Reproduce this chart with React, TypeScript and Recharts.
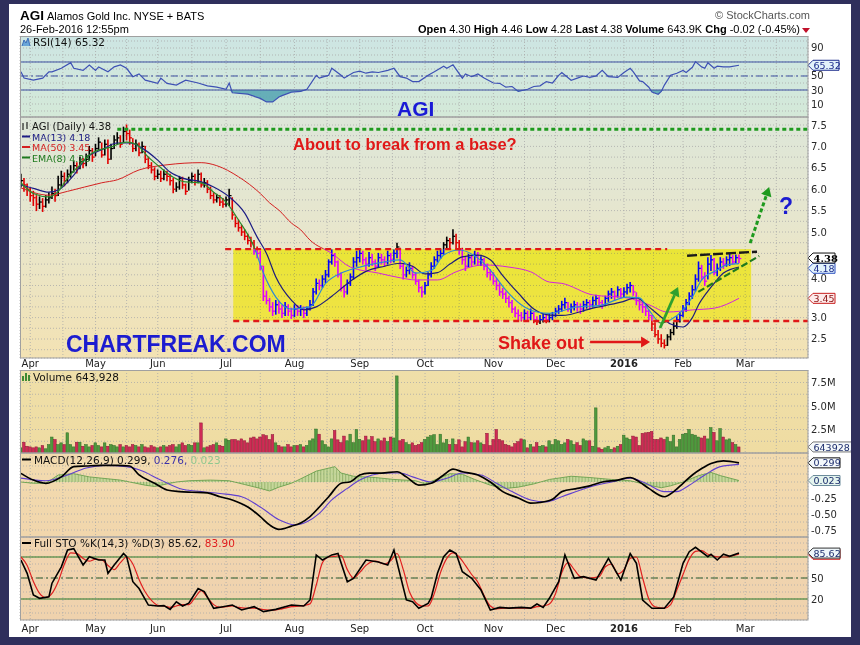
import React from "react";
import { ComposedChart, Line, Bar, Area, XAxis, YAxis, CartesianGrid, ReferenceLine, ReferenceArea } from "recharts";

// ---------- DATA (trading-day index 0 = 27-Mar-2015 ... 231 = 26-Feb-2016) ----------
const closes = [
  6.20, 6.10, 6.00, 5.85, 5.80, 5.65, 5.70, 5.60, 5.75, 5.80,
  5.90, 5.85, 6.10, 6.30, 6.20, 6.35, 6.40, 6.55, 6.50, 6.65,
  6.60, 6.70, 6.90, 6.75, 6.95, 7.10, 6.80, 7.05, 6.70, 6.95,
  7.15, 7.20, 7.05, 7.35, 7.30, 7.20, 6.95, 7.05, 6.85, 7.00,
  6.70, 6.55, 6.45, 6.30, 6.35, 6.25, 6.35, 6.30, 6.20, 6.00,
  6.05, 6.25, 6.10, 5.95, 6.20, 6.30, 6.20, 6.35, 6.10, 6.15,
  6.00, 5.85, 5.75, 5.80, 5.70, 5.65, 5.75, 5.85, 5.40, 5.20,
  5.10, 5.00, 4.90, 4.80, 4.75, 4.55, 4.50, 4.20, 3.50, 3.40,
  3.25, 3.15, 3.30, 3.20, 3.10, 3.25, 3.15, 3.05, 3.20, 3.15,
  3.20, 3.10, 3.20, 3.30, 3.60, 3.80, 3.75, 3.90, 4.00, 4.30,
  4.45, 4.30, 4.00, 3.70, 3.60, 3.80, 3.95, 4.30, 4.40, 4.50,
  4.35, 4.25, 4.40, 4.30, 4.20, 4.40, 4.35, 4.30, 4.45, 4.35,
  4.50, 4.65, 4.20, 4.00, 4.10, 4.15, 4.00, 3.85, 3.70, 3.60,
  3.75, 4.00, 4.20, 4.35, 4.45, 4.50, 4.70, 4.80, 4.75, 4.90,
  4.75, 4.60, 4.35, 4.20, 4.40, 4.30, 4.45, 4.30, 4.35, 4.20,
  4.05, 4.00, 3.85, 3.75, 3.60, 3.55, 3.45, 3.35, 3.20, 3.10,
  3.05, 3.00, 3.10, 3.00, 3.10, 2.95, 2.90, 2.95, 3.00, 2.95,
  3.00, 3.05, 3.15, 3.20, 3.30, 3.35, 3.20, 3.25, 3.30, 3.25,
  3.20, 3.30, 3.35, 3.30, 3.40, 3.45, 3.35, 3.30, 3.45, 3.55,
  3.60, 3.50, 3.65, 3.55, 3.60, 3.70, 3.75, 3.60, 3.40, 3.30,
  3.25, 3.15, 3.05, 2.85, 2.60, 2.50, 2.40, 2.35, 2.55, 2.65,
  2.80, 2.95, 3.05, 3.20, 3.35, 3.50, 3.65, 3.90, 4.15, 3.95,
  3.85, 4.25, 4.35, 4.05, 4.15, 4.30, 4.25, 4.35, 4.40, 4.30,
  4.40, 4.38,
];
const highs = [
  6.35, 6.25, 6.12, 6.02, 5.95, 5.85, 5.82, 5.78, 5.85, 5.92,
  6.05, 6.00, 6.30, 6.42, 6.38, 6.45, 6.55, 6.65, 6.62, 6.75,
  6.72, 6.82, 7.00, 6.95, 7.05, 7.20, 7.08, 7.15, 7.15, 7.05,
  7.25, 7.32, 7.25, 7.45, 7.50, 7.38, 7.18, 7.15, 7.08, 7.10,
  7.00, 6.75, 6.62, 6.50, 6.45, 6.42, 6.45, 6.42, 6.35, 6.25,
  6.15, 6.30, 6.28, 6.12, 6.28, 6.38, 6.35, 6.45, 6.38, 6.25,
  6.20, 6.05, 5.92, 5.88, 5.85, 5.78, 5.82, 6.00, 5.80, 5.35,
  5.28, 5.15, 5.05, 4.95, 4.88, 4.80, 4.65, 4.55, 4.20, 3.62,
  3.45, 3.35, 3.40, 3.38, 3.28, 3.35, 3.30, 3.22, 3.30, 3.28,
  3.28, 3.25, 3.25, 3.40, 3.68, 3.90, 3.88, 3.98, 4.10, 4.35,
  4.58, 4.50, 4.32, 4.05, 3.75, 3.88, 4.02, 4.40, 4.55, 4.58,
  4.55, 4.40, 4.52, 4.48, 4.35, 4.50, 4.48, 4.42, 4.55, 4.50,
  4.58, 4.74, 4.62, 4.25, 4.18, 4.28, 4.20, 4.05, 3.88, 3.72,
  3.82, 4.05, 4.28, 4.42, 4.55, 4.60, 4.75, 4.88, 4.85, 5.05,
  4.95, 4.80, 4.62, 4.42, 4.48, 4.45, 4.55, 4.52, 4.42, 4.38,
  4.25, 4.12, 4.05, 3.92, 3.80, 3.68, 3.60, 3.50, 3.40, 3.25,
  3.18, 3.12, 3.18, 3.15, 3.20, 3.12, 3.02, 3.05, 3.08, 3.05,
  3.08, 3.12, 3.22, 3.28, 3.38, 3.45, 3.35, 3.32, 3.38, 3.35,
  3.32, 3.38, 3.42, 3.40, 3.48, 3.52, 3.48, 3.40, 3.50, 3.62,
  3.68, 3.62, 3.72, 3.68, 3.70, 3.78, 3.82, 3.75, 3.58, 3.42,
  3.35, 3.28, 3.18, 3.05, 2.88, 2.70, 2.60, 2.48, 2.60, 2.72,
  2.88, 3.02, 3.12, 3.28, 3.42, 3.58, 3.75, 4.00, 4.30, 4.22,
  4.05, 4.40, 4.45, 4.38, 4.25, 4.40, 4.38, 4.42, 4.48, 4.45,
  4.46, 4.46,
];
const lows = [
  6.05, 5.95, 5.85, 5.72, 5.62, 5.50, 5.55, 5.48, 5.58, 5.68,
  5.78, 5.72, 5.85, 6.05, 6.08, 6.15, 6.28, 6.40, 6.38, 6.48,
  6.50, 6.55, 6.68, 6.65, 6.78, 6.92, 6.75, 6.80, 6.60, 6.70,
  6.95, 7.05, 6.98, 7.10, 7.15, 7.05, 6.88, 6.90, 6.78, 6.85,
  6.62, 6.48, 6.38, 6.22, 6.25, 6.18, 6.22, 6.20, 6.10, 5.92,
  5.95, 6.00, 6.02, 5.88, 5.98, 6.15, 6.10, 6.15, 6.05, 6.05,
  5.92, 5.78, 5.68, 5.70, 5.62, 5.58, 5.60, 5.62, 5.30, 5.12,
  5.02, 4.92, 4.82, 4.72, 4.65, 4.48, 4.40, 4.12, 3.40, 3.32,
  3.15, 3.05, 3.08, 3.10, 3.00, 3.05, 3.05, 2.98, 3.02, 3.05,
  3.05, 3.00, 3.05, 3.18, 3.28, 3.55, 3.65, 3.70, 3.82, 3.95,
  4.25, 4.20, 3.95, 3.62, 3.48, 3.55, 3.75, 3.90, 4.20, 4.30,
  4.25, 4.12, 4.20, 4.22, 4.10, 4.18, 4.25, 4.20, 4.25, 4.28,
  4.30, 4.40, 4.15, 3.90, 3.95, 4.02, 3.92, 3.78, 3.60, 3.48,
  3.55, 3.75, 3.95, 4.15, 4.30, 4.38, 4.48, 4.62, 4.60, 4.72,
  4.62, 4.48, 4.25, 4.10, 4.18, 4.20, 4.25, 4.22, 4.22, 4.12,
  3.95, 3.88, 3.78, 3.65, 3.52, 3.45, 3.35, 3.25, 3.12, 3.02,
  2.95, 2.92, 2.95, 2.92, 2.95, 2.88, 2.84, 2.86, 2.90, 2.88,
  2.90, 2.95, 3.02, 3.10, 3.15, 3.22, 3.15, 3.12, 3.18, 3.15,
  3.10, 3.15, 3.22, 3.20, 3.25, 3.30, 3.28, 3.22, 3.28, 3.38,
  3.45, 3.40, 3.48, 3.45, 3.48, 3.55, 3.60, 3.52, 3.30, 3.18,
  3.12, 3.05, 2.95, 2.70, 2.55, 2.40, 2.32, 2.29, 2.35, 2.48,
  2.60, 2.75, 2.90, 3.02, 3.15, 3.30, 3.45, 3.62, 3.85, 3.88,
  3.75, 3.90, 4.10, 4.00, 3.98, 4.10, 4.15, 4.20, 4.22, 4.25,
  4.28, 4.28,
];
// volume in millions of shares
const volumes = [
  0.55, 1.15, 0.72, 0.65, 0.55, 0.65, 0.55, 0.80, 0.45, 0.90,
  1.70, 1.44, 0.90, 1.08, 0.90, 2.15, 0.90, 0.65, 1.15, 1.15,
  0.72, 0.90, 0.65, 0.80, 1.08, 0.80, 0.65, 1.08, 0.72, 0.90,
  0.80, 0.65, 0.90, 0.65, 0.80, 0.65, 0.90, 0.80, 0.65, 0.90,
  0.65, 0.55, 0.80, 0.65, 0.55, 0.65, 0.80, 0.65, 0.80, 0.90,
  0.65, 0.90, 1.08, 0.80, 0.90, 0.80, 1.08, 1.08, 3.20, 0.55,
  0.65, 0.80, 0.90, 1.08, 0.80, 0.72, 1.50, 1.35, 1.44, 1.44,
  1.30, 1.50, 1.30, 1.08, 1.60, 1.70, 1.50, 1.70, 1.95, 1.85,
  1.44, 1.95, 1.08, 0.80, 0.65, 0.65, 0.90, 0.65, 0.80, 0.80,
  0.90, 0.65, 0.80, 1.30, 1.50, 2.55, 2.00, 1.30, 0.90, 0.65,
  1.50, 2.40, 1.40, 1.10, 1.80, 1.30, 2.00, 1.10, 2.50, 1.45,
  1.30, 1.80, 1.40, 1.75, 1.20, 1.50, 1.30, 1.60, 1.20, 1.70,
  1.60, 8.20, 1.30, 1.45, 1.10, 0.90, 1.08, 0.80, 0.90, 1.10,
  1.44, 1.70, 1.85, 1.95, 0.90, 2.00, 1.08, 1.44, 0.90, 1.50,
  0.90, 1.40, 0.65, 1.20, 1.70, 1.10, 1.08, 1.30, 1.08, 0.90,
  2.10, 0.80, 1.44, 2.50, 1.44, 1.30, 0.90, 0.80, 0.65, 1.00,
  1.20, 1.50, 1.40, 0.55, 0.90, 0.65, 1.10, 0.72, 0.80, 0.65,
  1.30, 0.90, 1.44, 1.30, 0.90, 1.08, 1.44, 1.30, 0.90, 1.10,
  0.80, 1.50, 1.30, 1.30, 0.72, 4.80, 0.55, 0.40, 0.55, 0.72,
  0.40, 0.55, 0.72, 0.90, 1.90, 1.60, 1.44, 1.80, 1.70, 0.80,
  2.10, 2.15, 2.20, 2.30, 1.44, 1.44, 1.60, 1.44, 1.70, 1.20,
  1.90, 0.65, 1.44, 2.00, 2.10, 2.50, 2.00, 1.90, 1.70, 1.60,
  1.80, 1.50, 2.70, 2.20, 1.30, 2.60, 1.70, 1.40, 1.50, 1.10,
  0.90, 0.644,
];

const ma50Pts = [[0,6.03],[9,5.86],[15,5.95],[26,6.15],[31,6.22],[38,6.45],[47,6.57],[58,6.62],[63,6.55],[70,6.29],[77,5.9],[80,5.68],[83,5.51],[87,5.21],[90,5.05],[93,4.81],[100,4.5],[106,4.18],[115,4.04],[122,3.93],[127,3.88],[134,3.88],[140,4.07],[149,4.23],[157,4.18],[164,4.07],[170,3.83],[174,3.8],[184,3.53],[195,3.46],[202,3.3],[208,3.13],[216,3.18],[223,3.22],[231,3.45]];
const ma13Pts = [[0,6.1],[4,6.02],[9,5.93],[12,5.98],[17,6.33],[21,6.73],[26,6.92],[31,7.08],[35,7.08],[39,6.96],[44,6.68],[48,6.4],[52,6.26],[58,6.17],[62,6.05],[67,5.82],[72,5.44],[76,4.88],[79,4.5],[82,3.95],[87,3.41],[91,3.18],[95,3.25],[100,3.5],[106,3.85],[111,4.08],[117,4.2],[122,4.27],[126,4.2],[130,4.02],[134,4.05],[138,4.25],[142,4.42],[147,4.46],[151,4.35],[155,3.98],[160,3.57],[165,3.2],[170,3.06],[174,3.05],[184,3.22],[193,3.36],[198,3.46],[202,3.25],[206,3.01],[209,2.85],[213,2.78],[216,3.0],[218,3.3],[221,3.62],[223,3.8],[226,4.04],[231,4.18]];
const ema8Pts = [[0,6.15],[4,5.9],[9,5.82],[12,5.95],[15,6.26],[19,6.57],[23,6.85],[29,6.99],[34,7.1],[37,7.05],[41,6.75],[45,6.5],[49,6.28],[53,6.17],[58,6.15],[62,5.93],[66,5.7],[70,5.28],[75,4.65],[78,4.04],[82,3.48],[87,3.2],[93,3.25],[98,3.8],[104,4.07],[109,4.18],[117,4.3],[122,4.35],[127,4.04],[132,4.1],[136,4.46],[141,4.58],[147,4.39],[151,4.11],[156,3.64],[162,3.25],[166,3.13],[170,3.1],[179,3.25],[186,3.28],[195,3.48],[199,3.46],[202,3.18],[206,2.87],[209,2.95],[213,3.18],[216,3.48],[219,3.88],[224,4.11],[227,4.23],[231,4.26]];
const rsiPts = [[0,56],[1,47],[4,44],[7,47],[9,56],[10,56],[13,61],[16,69],[17,61],[20,58],[22,65.7],[24,58],[25,63],[28,56],[30,63],[32,65.7],[34,61],[36,49],[38,53],[40,44],[44,39.5],[45,47],[47,39.5],[50,37],[53,44],[57,40],[60,36],[63,34],[66,31],[67,40],[68,26],[73,24],[77,18],[79,13],[81,13],[83,20],[84,22],[87,27],[90,28],[92,31],[95,51],[96,47],[99,51],[100,61],[103,51],[104,47],[107,55],[109,57],[111,54],[113,56],[115,55],[118,58],[120,61],[122,49],[124,47],[126,42],[128,42],[131,51],[133,56],[136,64],[137,61],[139,66],[142,47],[143,53],[145,49],[147,53],[149,47],[152,40],[154,39.5],[156,34],[158,35],[160,28],[163,31],[165,35],[167,36],[169,42],[171,40],[173,51],[174,55],[177,44],[179,47],[181,50],[183,48],[185,50],[187,58],[189,49],[192,48],[194,55],[196,61],[197,56],[199,43],[200,42],[202,34],[203,27],[205,24],[206,28],[207,37],[209,51],[211,54],[213,58],[214,55],[216,62.5],[217,70.5],[219,63],[220,61],[221,69],[223,61],[224,64],[226,63],[228,63],[231,65.32]];
const macdPts = [[0,0.135],[4,0.03],[8,-0.02],[13,0.08],[17,0.24],[21,0.25],[26,0.26],[31,0.26],[35,0.25],[38,0.11],[43,-0.02],[47,-0.125],[51,-0.15],[55,-0.16],[60,-0.17],[64,-0.23],[68,-0.28],[73,-0.39],[77,-0.54],[80,-0.67],[83,-0.74],[87,-0.69],[90,-0.64],[93,-0.54],[96,-0.39],[99,-0.23],[103,-0.02],[106,0.005],[109,0.11],[112,0.14],[116,0.14],[121,0.16],[124,0.08],[128,-0.05],[132,-0.02],[136,0.11],[139,0.2],[142,0.16],[147,0.11],[151,0.0],[155,-0.15],[160,-0.25],[164,-0.33],[167,-0.32],[171,-0.27],[174,-0.15],[179,-0.1],[183,-0.06],[187,0.0],[192,0.03],[196,0.07],[199,0.0],[202,-0.1],[207,-0.23],[210,-0.15],[213,-0.02],[216,0.11],[219,0.21],[222,0.29],[226,0.33],[231,0.299]];
const signalPts = [[0,0.06],[8,0.02],[15,0.11],[21,0.22],[27,0.26],[34,0.24],[38,0.19],[45,0.03],[51,-0.1],[58,-0.15],[64,-0.18],[71,-0.23],[77,-0.39],[83,-0.59],[88,-0.67],[92,-0.62],[96,-0.49],[100,-0.28],[105,-0.1],[109,0.03],[113,0.11],[118,0.14],[122,0.14],[126,0.08],[132,0.0],[137,0.06],[142,0.14],[148,0.11],[153,-0.02],[158,-0.15],[164,-0.28],[169,-0.31],[174,-0.23],[180,-0.125],[185,-0.05],[190,0.0],[196,0.06],[201,-0.02],[207,-0.15],[211,-0.15],[215,-0.05],[220,0.11],[225,0.24],[231,0.276]];
const histPts = [[0,0.0],[4,-0.02],[8,-0.02],[12,0.11],[17,0.13],[22,0.08],[28,0.05],[32,0.03],[35,0.0],[40,-0.05],[43,-0.07],[45,-0.05],[50,0.0],[54,0.02],[61,0.03],[67,0.02],[72,-0.04],[77,-0.1],[80,-0.14],[83,-0.08],[87,-0.02],[90,0.05],[95,0.17],[101,0.24],[103,0.14],[107,0.09],[114,0.07],[120,0.04],[127,0.02],[130,-0.03],[133,0.03],[138,0.13],[142,0.12],[146,0.04],[151,-0.05],[156,-0.1],[160,-0.08],[165,-0.03],[170,0.04],[177,0.09],[183,0.07],[190,0.04],[196,0.02],[201,-0.04],[206,-0.09],[209,-0.06],[213,0.0],[218,0.1],[222,0.15],[225,0.1],[231,0.023]];
const stoKPts = [[0,75.7],[2,56.7],[4,25.7],[6,21],[9,23],[10,42.6],[13,66],[15,90],[17,92],[20,68.6],[22,80.5],[25,75.7],[27,75.7],[28,56.7],[30,68.6],[33,85],[34,80.5],[36,44.7],[38,35],[41,11.4],[44,10],[46,10.5],[48,5.2],[50,16],[52,10],[54,14],[57,35],[59,30.5],[62,6.7],[65,9],[68,11.4],[71,4.3],[75,9],[78,2],[82,5.2],[87,11.4],[91,10],[93,18.6],[95,83],[97,75.7],[100,83],[102,85],[105,44.7],[107,49.5],[111,75.7],[115,73],[118,68.6],[120,90],[124,18.6],[126,16],[128,6.7],[131,13.8],[132,22],[134,56.7],[136,80.5],[138,90],[140,85],[142,59],[145,49.5],[148,32.8],[151,4.3],[154,8],[157,7],[161,8],[164,7],[166,12.9],[168,8],[170,21],[173,44.7],[175,83],[178,49.5],[181,51.9],[185,47],[189,78],[193,47],[196,85],[198,71],[200,18.6],[203,6.7],[207,6.7],[210,23],[213,71],[215,87.6],[217,93.8],[221,80.5],[222,84],[224,75.7],[226,84],[228,81],[231,85.62]];
const stoDPts = [[0,80],[2,68],[4,45],[6,28],[8,22],[10,28],[12,45],[14,70],[16,86],[18,85],[20,78],[22,74],[24,77],[26,76],[28,68],[30,62],[32,72],[34,80],[36,70],[38,48],[40,30],[42,18],[44,11],[46,10],[48,8],[50,10],[52,12],[54,12],[56,22],[58,32],[60,22],[62,12],[64,8],[66,9],[68,10],[70,8],[72,7],[75,7],[78,5],[81,4],[84,6],[87,9],[90,10],[93,13],[95,40],[97,72],[99,80],[101,81],[103,82],[105,62],[107,50],[109,58],[111,68],[114,74],[117,70],[119,75],[121,85],[123,62],[125,30],[127,15],[129,10],[131,10],[133,28],[135,58],[137,78],[139,86],[141,80],[143,68],[145,55],[147,44],[149,25],[151,10],[153,6],[156,7],[160,7],[164,7],[166,9],[168,10],[170,13],[172,28],[174,58],[176,72],[178,62],[180,52],[183,50],[186,52],[188,66],[190,70],[192,56],[194,62],[196,78],[198,80],[200,50],[202,20],[204,9],[207,7],[209,12],[211,33],[213,55],[215,77],[217,88],[219,89],[221,84],[223,81],[225,80],[227,80],[229,82],[231,83.9]];

const monthTicks = [3, 24, 44, 66, 88, 109, 130, 152, 172, 194, 213, 233];
const monthLabels = ["Apr", "May", "Jun", "Jul", "Aug", "Sep", "Oct", "Nov", "Dec", "2016", "Feb", "Mar"];
const halfMonthTicks = [13.5, 34, 55, 77, 98.5, 119.5, 141, 162, 183, 203.5, 223, 243];

const priceGridTicks = [2.25, 2.5, 2.75, 3, 3.25, 3.5, 3.75, 4, 4.25, 4.5, 4.75, 5, 5.25, 5.5, 5.75, 6, 6.25, 6.5, 6.75, 7, 7.25, 7.5];
const priceTickLabels: Record<string, string> = { "2.5": "2.5", "3": "3.0", "4": "4.0", "5": "5.0", "5.5": "5.5", "6": "6.0", "6.5": "6.5", "7": "7.0", "7.5": "7.5" };
const rsiGridTicks = [0, 10, 20, 30, 40, 50, 60, 70, 80, 90, 100];
const rsiTickLabels: Record<string, string> = { "90": "90", "50": "50", "30": "30", "10": "10" };
const volGridTicks = [1.25, 2.5, 3.75, 5, 6.25, 7.5];
const volTickLabels: Record<string, string> = { "7.5": "7.5M", "5": "5.0M", "2.5": "2.5M" };
const macdGridTicks = [-0.75, -0.625, -0.5, -0.375, -0.25, -0.125, 0, 0.125, 0.25, 0.375];
const macdTickLabels: Record<string, string> = { "-0.25": "-0.25", "-0.5": "-0.50", "-0.75": "-0.75" };
const stoGridTicks = [0, 10, 20, 30, 40, 50, 60, 70, 80, 90, 100];
const stoTickLabels: Record<string, string> = { "50": "50", "20": "20" };

// ---------- derived tables ----------
const priceData = closes.map((c, i) => ({ i, c, hi: highs[i], lo: lows[i], vol: volumes[i], up: i === 0 ? true : c >= closes[i - 1] }));
const toRows = (pts: number[][]) => pts.map(([i, v]) => ({ i, v }));
const ma50Data = toRows(ma50Pts);
const ma13Data = toRows(ma13Pts);
const ema8Data = toRows(ema8Pts);
const rsiData = toRows(rsiPts);
const macdData = toRows(macdPts);
const signalData = toRows(signalPts);
const histData = toRows(histPts);
const stoKData = toRows(stoKPts);
const stoDData = toRows(stoDPts);
const gridX = [...monthTicks, ...halfMonthTicks].sort((a, b) => a - b);

const X_DOMAIN: [number, number] = [-0.3, 253.2];
const MARGIN = { top: 0, right: 0, bottom: 0, left: 20 };
const FONT = "'DejaVu Sans', Verdana, sans-serif";
const HFONT = "'Liberation Sans', Arial, sans-serif";
const GRID = { stroke: "#a9a9a9", strokeDasharray: "1 2", strokeWidth: 0.8 };
const NAVY = "#2f2f5c";

const makeYTick = (labels: Record<string, string>, shift: Record<string, number> = {}) => (p: any) => {
  const key = String(p.payload.value);
  const lab = labels[key];
  if (!lab) return <g />;
  return (
    <text x={p.x} y={p.y + 3.5 + (shift[key] || 0)} fontFamily={FONT} fontSize={10} fill="#2a2a2a" textAnchor="start">{lab}</text>
  );
};
const makeMonthTick = (dy: number) => (p: any) => {
  const k = monthTicks.indexOf(p.payload.value);
  if (k < 0) return <g />;
  const lab = monthLabels[k];
  return (
    <text x={p.x} y={p.y + dy} textAnchor="middle" fontFamily={FONT} fontSize={10} fontWeight={lab === "2016" ? "bold" : "normal"} fill="#222">{lab}</text>
  );
};

const PriceBar = (p: any) => {
  const { x, y, width, height, payload } = p;
  if (x == null || y == null || !payload) return <g />;
  const top = Math.min(y, y + height);
  const h = Math.abs(height);
  const cx = x + width / 2;
  const span = payload.hi - payload.lo || 1;
  const yc = top + ((payload.hi - payload.c) / span) * h;
  const col = payload.up ? "#000000" : "#e00000";
  return (
    <g>
      <line x1={cx} x2={cx} y1={top - 0.5} y2={top + h + 0.5} stroke={col} strokeWidth={1.6} />
      <line x1={cx} x2={cx + 2.4} y1={yc} y2={yc} stroke={col} strokeWidth={1.3} />
    </g>
  );
};
const VolBar = (p: any) => {
  const { x, y, width, height, payload } = p;
  if (x == null || !payload) return <g />;
  const up = payload.up;
  return <rect x={x} y={Math.min(y, y + height)} width={width} height={Math.abs(height)} fill={up ? "#4f9a3e" : "#cf2b55"} stroke={up ? "#2f6b25" : "#8d1736"} strokeWidth={0.5} />;
};

function arrowShape(color: string, width: number, dash: string | undefined, head: number) {
  return (p: any) => {
    const { x1, y1, x2, y2 } = p;
    const a = Math.atan2(y2 - y1, x2 - x1);
    const bx = x2 - head * Math.cos(a);
    const by = y2 - head * Math.sin(a);
    const hw = head * 0.6;
    const pts = `${x2},${y2} ${bx + hw * Math.sin(a)},${by - hw * Math.cos(a)} ${bx - hw * Math.sin(a)},${by + hw * Math.cos(a)}`;
    return (
      <g>
        <line x1={x1} y1={y1} x2={bx} y2={by} stroke={color} strokeWidth={width} strokeDasharray={dash} />
        <polygon points={pts} fill={color} />
      </g>
    );
  };
}

function tagShape(text: string, stroke: string, fill: string, color: string, w: number, bold = false, dy = 0) {
  return (p: any) => {
    const x = Math.max(p.x1, p.x2);
    const y = p.y1 + dy;
    const h = 10;
    return (
      <g>
        <polygon points={`${x},${y} ${x + 5},${y - h / 2} ${x + w},${y - h / 2} ${x + w},${y + h / 2} ${x + 5},${y + h / 2}`} fill={fill} stroke={stroke} strokeWidth={1} />
        <text x={x + 5.5} y={y + 3.6} fontFamily={bold ? "'DejaVu Serif', serif" : FONT} fontSize={bold ? 10 : 9.5} fontWeight={bold ? "bold" : "normal"} fill={color}>{text}</text>
      </g>
    );
  };
}

const blendShape = (p: any) => (
  <rect x={p.x} y={p.y} width={p.width} height={p.height} fill="#0000ff" style={{ mixBlendMode: "difference" }} />
);

function RsiChart() {
  return (
    <ComposedChart width={860} height={81} margin={MARGIN} data={rsiData}>
      <defs>
        <linearGradient id="gRsi" x1="0" y1="0" x2="0" y2="1">
          <stop offset="0%" stopColor="#cde5e3" />
          <stop offset="100%" stopColor="#d4e9d8" />
        </linearGradient>
      </defs>
      <CartesianGrid {...GRID} fill="url(#gRsi)" />
      <XAxis type="number" dataKey="i" domain={X_DOMAIN} allowDataOverflow ticks={gridX} interval={0} hide />
      <YAxis orientation="right" width={52} domain={[-8.57, 107.14]} allowDataOverflow ticks={rsiGridTicks} interval={0} tick={makeYTick(rsiTickLabels)} axisLine={false} tickLine={false} tickSize={0} tickMargin={3} />
      <ReferenceLine y={70} stroke="#3c4ea0" strokeWidth={1} />
      <ReferenceLine y={30} stroke="#3c4ea0" strokeWidth={1} />
      <ReferenceLine y={50} stroke="#3c4ea0" strokeWidth={1} strokeDasharray="7 3 2 3" />
      <Area type="linear" dataKey={(d: any) => [Math.min(d.v, 30), 30]} fill="#5aa7b4" fillOpacity={0.9} stroke="none" isAnimationActive={false} />
      <Line type="linear" dataKey="v" stroke="#3d50b4" strokeWidth={1.2} dot={false} isAnimationActive={false} />
      <ReferenceLine y={65.32} stroke="none" ifOverflow="visible" shape={tagShape("65.32", "#1c2c8c", "#e2f2fb", "#1c2c8c", 31)} />
    </ComposedChart>
  );
}

function PriceChart() {
  return (
    <ComposedChart width={860} height={253} margin={MARGIN} data={priceData}>
      <defs>
        <linearGradient id="gPrice" x1="0" y1="0" x2="0" y2="1">
          <stop offset="0%" stopColor="#dde6d9" />
          <stop offset="45%" stopColor="#e7e6cd" />
          <stop offset="100%" stopColor="#f3e2b3" />
        </linearGradient>
      </defs>
      <CartesianGrid {...GRID} fill="url(#gPrice)" />
      <XAxis type="number" dataKey="i" domain={X_DOMAIN} allowDataOverflow ticks={gridX} interval={0} height={12} axisLine={false} tickLine={false} tickSize={0} tickMargin={0} tick={makeMonthTick(9)} />
      <YAxis orientation="right" width={52} domain={[2.056, 7.687]} allowDataOverflow ticks={priceGridTicks} interval={0} tick={makeYTick(priceTickLabels, { "4": 3.5 })} axisLine={false} tickLine={false} tickSize={0} tickMargin={3} />
      <Line data={ma50Data} type="monotone" dataKey="v" stroke="#d42020" strokeWidth={1} dot={false} isAnimationActive={false} />
      <Line data={ma13Data} type="monotone" dataKey="v" stroke="#1c1c84" strokeWidth={1.2} dot={false} isAnimationActive={false} />
      <Line data={ema8Data} type="monotone" dataKey="v" stroke="#2b8a2b" strokeWidth={1.2} dot={false} isAnimationActive={false} />
      <Bar dataKey={(d: any) => [d.lo, d.hi]} barSize={3} shape={PriceBar} isAnimationActive={false} />
      <ReferenceArea x1={68.3} x2={234.9} y1={2.93} y2={4.6} ifOverflow="visible" shape={blendShape} zIndex={900} />
      <ReferenceLine segment={[{ x: 65.7, y: 4.6 }, { x: 207.9, y: 4.6 }]} stroke="#e01818" strokeWidth={2.4} strokeDasharray="6 4" zIndex={1000} />
      <ReferenceLine segment={[{ x: 68.3, y: 2.92 }, { x: 253.2, y: 2.92 }]} stroke="#e01818" strokeWidth={2.4} strokeDasharray="6 4" zIndex={1000} />
      <ReferenceLine segment={[{ x: 31, y: 7.4 }, { x: 253.2, y: 7.4 }]} stroke="#1e9a1e" strokeWidth={3} strokeDasharray="4 3" zIndex={1000} />
      <ReferenceLine segment={[{ x: 214.3, y: 4.446 }, { x: 236.8, y: 4.54 }]} stroke="#1a1a1a" strokeWidth={2.4} strokeDasharray="10 3" zIndex={1000} />
      <ReferenceLine segment={[{ x: 217.9, y: 3.6 }, { x: 237.5, y: 4.44 }]} stroke="#1f7a1f" strokeWidth={2.2} strokeDasharray="7 3" zIndex={1000} />
      <ReferenceLine segment={[{ x: 234.6, y: 4.74 }, { x: 240.7, y: 6.05 }]} ifOverflow="visible" zIndex={1000} shape={arrowShape("#1e9a1e", 3, "4 2.5", 9)} />
      <ReferenceLine segment={[{ x: 205.6, y: 2.757 }, { x: 211.4, y: 3.715 }]} ifOverflow="visible" zIndex={1000} shape={arrowShape("#2ea02e", 2.8, undefined, 9)} />
      <ReferenceLine segment={[{ x: 183.1, y: 2.43 }, { x: 202.4, y: 2.43 }]} ifOverflow="visible" zIndex={1000} shape={arrowShape("#e01818", 2.5, undefined, 9)} />
      <ReferenceLine y={3.45} stroke="none" ifOverflow="visible" zIndex={1100} shape={tagShape("3.45", "#c81e1e", "#fdeaea", "#8a1010", 27)} />
      <ReferenceLine y={4.18} stroke="none" ifOverflow="visible" zIndex={1100} shape={tagShape("4.18", "#2b4fc0", "#e2f2fb", "#1c2c8c", 27, false, 1.2)} />
      <ReferenceLine y={4.38} stroke="none" ifOverflow="visible" zIndex={1100} shape={tagShape("4.38", "#111", "#ffffff", "#000", 27, true, -0.5)} />
    </ComposedChart>
  );
}

function VolumeChart() {
  return (
    <ComposedChart width={860} height={83} margin={MARGIN} data={priceData}>
      <defs>
        <linearGradient id="gVol" x1="0" y1="0" x2="0" y2="1">
          <stop offset="0%" stopColor="#efdfa9" />
          <stop offset="100%" stopColor="#efdca2" />
        </linearGradient>
      </defs>
      <CartesianGrid {...GRID} fill="url(#gVol)" />
      <XAxis type="number" dataKey="i" domain={X_DOMAIN} allowDataOverflow ticks={gridX} interval={0} hide />
      <YAxis orientation="right" width={52} domain={[0, 8.83]} allowDataOverflow ticks={volGridTicks} interval={0} tick={makeYTick(volTickLabels)} axisLine={false} tickLine={false} tickSize={0} tickMargin={3} />
      <Bar dataKey="vol" barSize={2.6} shape={VolBar} isAnimationActive={false} />
      <ReferenceLine y={0.644} stroke="none" ifOverflow="visible" shape={tagShape("643928.0", "#777", "#f4f8fa", "#1c2c6c", 50)} />
    </ComposedChart>
  );
}

function MacdChart() {
  return (
    <ComposedChart width={860} height={84} margin={MARGIN} data={macdData}>
      <defs>
        <linearGradient id="gMacd" x1="0" y1="0" x2="0" y2="1">
          <stop offset="0%" stopColor="#f2dbaf" />
          <stop offset="100%" stopColor="#f1d6ac" />
        </linearGradient>
        <pattern id="histStripe" width="3.11" height="6" patternUnits="userSpaceOnUse">
          <rect width="3.11" height="6" fill="#a9d68d" />
          <rect width="1" height="6" fill="#5e9a45" />
        </pattern>
      </defs>
      <CartesianGrid {...GRID} fill="url(#gMacd)" />
      <XAxis type="number" dataKey="i" domain={X_DOMAIN} allowDataOverflow ticks={gridX} interval={0} hide />
      <YAxis orientation="right" width={52} domain={[-0.859, 0.453]} allowDataOverflow ticks={macdGridTicks} interval={0} tick={makeYTick(macdTickLabels)} axisLine={false} tickLine={false} tickSize={0} tickMargin={3} />
      <Area data={histData} type="linear" dataKey="v" baseValue={0} fill="url(#histStripe)" stroke="#5e9a45" strokeWidth={0.8} isAnimationActive={false} />
      <Line data={signalData} type="monotone" dataKey="v" stroke="#6040d0" strokeWidth={1.1} dot={false} isAnimationActive={false} />
      <Line data={macdData} type="monotone" dataKey="v" stroke="#000" strokeWidth={1.7} dot={false} isAnimationActive={false} />
      <ReferenceLine y={0.023} stroke="none" ifOverflow="visible" shape={tagShape("0.023", "#6a8a9a", "#e4f4ee", "#1c2c6c", 32)} />
      <ReferenceLine y={0.299} stroke="none" ifOverflow="visible" shape={tagShape("0.299", "#111", "#f4f8fb", "#1c2c6c", 32)} />
    </ComposedChart>
  );
}

function StoChart() {
  return (
    <ComposedChart width={860} height={100} margin={MARGIN} data={stoKData}>
      <defs>
        <linearGradient id="gSto" x1="0" y1="0" x2="0" y2="1">
          <stop offset="0%" stopColor="#f1d5b0" />
          <stop offset="100%" stopColor="#efd2ad" />
        </linearGradient>
      </defs>
      <CartesianGrid {...GRID} fill="url(#gSto)" />
      <XAxis type="number" dataKey="i" domain={X_DOMAIN} allowDataOverflow ticks={gridX} interval={0} height={17} axisLine={false} tickLine={false} tickSize={0} tickMargin={0} tick={makeMonthTick(12)} />
      <YAxis orientation="right" width={52} domain={[-10, 108.6]} allowDataOverflow ticks={stoGridTicks} interval={0} tick={makeYTick(stoTickLabels)} axisLine={false} tickLine={false} tickSize={0} tickMargin={3} />
      <ReferenceLine y={80} stroke="#2a7a2a" strokeWidth={1.1} />
      <ReferenceLine y={20} stroke="#2a7a2a" strokeWidth={1.1} />
      <ReferenceLine y={50} stroke="#2a5a2a" strokeWidth={1} strokeDasharray="7 3 2 3" />
      <Line data={stoDData} type="monotone" dataKey="v" stroke="#e02020" strokeWidth={1.2} dot={false} isAnimationActive={false} />
      <Line data={stoKData} type="linear" dataKey="v" stroke="#000" strokeWidth={1.6} dot={false} isAnimationActive={false} />
      <ReferenceLine y={83.9} stroke="none" ifOverflow="visible" shape={tagShape("", "#d02020", "#fbe8e8", "#000", 32)} />
      <ReferenceLine y={85.62} stroke="none" ifOverflow="visible" shape={tagShape("85.62", "#333", "#eef6fa", "#1c2c6c", 32)} />
    </ComposedChart>
  );
}

function Overlay() {
  const panel = { fill: "none", stroke: "#a0a0a0", strokeWidth: 1 };
  return (
    <svg width={860} height={645} style={{ position: "absolute", left: 0, top: 0, pointerEvents: "none" }}>
      <rect x={20.5} y={36.5} width={787.5} height={80.5} {...panel} />
      <rect x={20.5} y={117} width={787.5} height={241} {...panel} />
      <rect x={20.5} y={370.5} width={787.5} height={82.5} {...panel} />
      <rect x={20.5} y={453} width={787.5} height={84} {...panel} />
      <rect x={20.5} y={537} width={787.5} height={83} {...panel} />
      <rect x={851} y={0} width={9} height={645} fill={NAVY} />
      <rect x={0} y={0} width={9} height={645} fill={NAVY} />
      <rect x={0} y={637} width={860} height={8} fill={NAVY} />
      <rect x={0} y={0} width={860} height={4} fill={NAVY} />

      {/* header */}
      <text x={20} y={20} fontFamily={HFONT} fontSize={13.5} fontWeight="bold" fill="#000">AGI</text>
      <text x={47} y={20} fontFamily={HFONT} fontSize={11} fill="#000">Alamos Gold Inc.  NYSE + BATS</text>
      <text x={20} y={33} fontFamily={HFONT} fontSize={11} fill="#000">26-Feb-2016 12:55pm</text>
      <text x={810} y={19} textAnchor="end" fontFamily={HFONT} fontSize={11} fill="#555">© StockCharts.com</text>
      <text x={800} y={33} textAnchor="end" fontFamily={HFONT} fontSize={11} fill="#000">
        <tspan fontWeight="bold">Open</tspan> 4.30  <tspan fontWeight="bold">High</tspan> 4.46  <tspan fontWeight="bold">Low</tspan> 4.28  <tspan fontWeight="bold">Last</tspan> 4.38  <tspan fontWeight="bold">Volume</tspan> 643.9K  <tspan fontWeight="bold">Chg</tspan> -0.02 (-0.45%)
      </text>
      <polygon points="802,28 810,28 806,33" fill="#c0102a" />

      {/* RSI legend */}
      <polyline points="22,46 24,40 26,43 28,38 30,46" fill="#6aa6d8" stroke="#2a5ab0" strokeWidth={0.8} />
      <text x={33} y={46} fontFamily={FONT} fontSize={10.5} fill="#111">RSI(14) 65.32</text>
      <text x={397} y={116} fontFamily={HFONT} fontSize={21} fontWeight="bold" fill="#1a1ad6">AGI</text>

      {/* price legend */}
      <line x1={23} y1={123} x2={23} y2={130} stroke="#000" strokeWidth={1} />
      <line x1={27} y1={122} x2={27} y2={129} stroke="#000" strokeWidth={1} />
      <text x={32} y={130} fontFamily={FONT} fontSize={10} fill="#111">AGI (Daily) 4.38</text>
      <line x1={22} y1={136.5} x2={30} y2={136.5} stroke="#1c1c84" strokeWidth={2} />
      <text x={32} y={140.5} fontFamily={FONT} fontSize={9.5} fill="#1c1c84">MA(13) 4.18</text>
      <line x1={22} y1={147} x2={30} y2={147} stroke="#d42020" strokeWidth={2} />
      <text x={32} y={151} fontFamily={FONT} fontSize={9.5} fill="#d42020">MA(50) 3.45</text>
      <line x1={22} y1={157.5} x2={30} y2={157.5} stroke="#1e7a1e" strokeWidth={2} />
      <text x={32} y={161.5} fontFamily={FONT} fontSize={9.5} fill="#1e7a1e">EMA(8) 4.26</text>

      <text x={293} y={150} fontFamily={HFONT} fontSize={16.5} fontWeight="bold" fill="#e01818">About to break from a base?</text>
      <text x={66} y={352} fontFamily={HFONT} fontSize={23} fontWeight="bold" fill="#1c1cd0">CHARTFREAK.COM</text>
      <text x={498} y={349} fontFamily={HFONT} fontSize={18} fontWeight="bold" fill="#e01818">Shake out</text>
      <text x={779} y={214} fontFamily={HFONT} fontSize={23} fontWeight="bold" fill="#1c1cd0">?</text>

      {/* volume legend */}
      <rect x={22} y={376} width={2} height={5} fill="#3f8a32" />
      <rect x={25} y={373} width={2} height={8} fill="#3f8a32" />
      <rect x={28} y={375} width={2} height={6} fill="#3f8a32" />
      <text x={33} y={381} fontFamily={FONT} fontSize={10.5} fill="#111">Volume 643,928</text>

      {/* MACD legend */}
      <line x1={22} y1={459.5} x2={31} y2={459.5} stroke="#000" strokeWidth={2} />
      <text x={34} y={463.5} fontFamily={FONT} fontSize={10.5} fill="#111">MACD(12,26,9) 0.299, <tspan fill="#3a30a8">0.276,</tspan> <tspan fill="#90c890">0.023</tspan></text>

      {/* STO legend */}
      <line x1={22} y1={543} x2={31} y2={543} stroke="#000" strokeWidth={2} />
      <text x={34} y={547} fontFamily={FONT} fontSize={10.5} fill="#111">Full STO %K(14,3) %D(3) 85.62, <tspan fill="#e02020">83.90</tspan></text>
    </svg>
  );
}

export default function App() {
  return (
    <div style={{ position: "absolute", left: 0, top: 0, width: 860, height: 645, background: NAVY, overflow: "hidden" }}>
      <div style={{ position: "absolute", left: 9, top: 4, width: 842, height: 633, background: "#ffffff" }} />
      <div style={{ position: "absolute", left: 0, top: 36 }}><RsiChart /></div>
      <div style={{ position: "absolute", left: 0, top: 117 }}><PriceChart /></div>
      <div style={{ position: "absolute", left: 0, top: 370 }}><VolumeChart /></div>
      <div style={{ position: "absolute", left: 0, top: 453 }}><MacdChart /></div>
      <div style={{ position: "absolute", left: 0, top: 537 }}><StoChart /></div>
      <Overlay />
    </div>
  );
}
